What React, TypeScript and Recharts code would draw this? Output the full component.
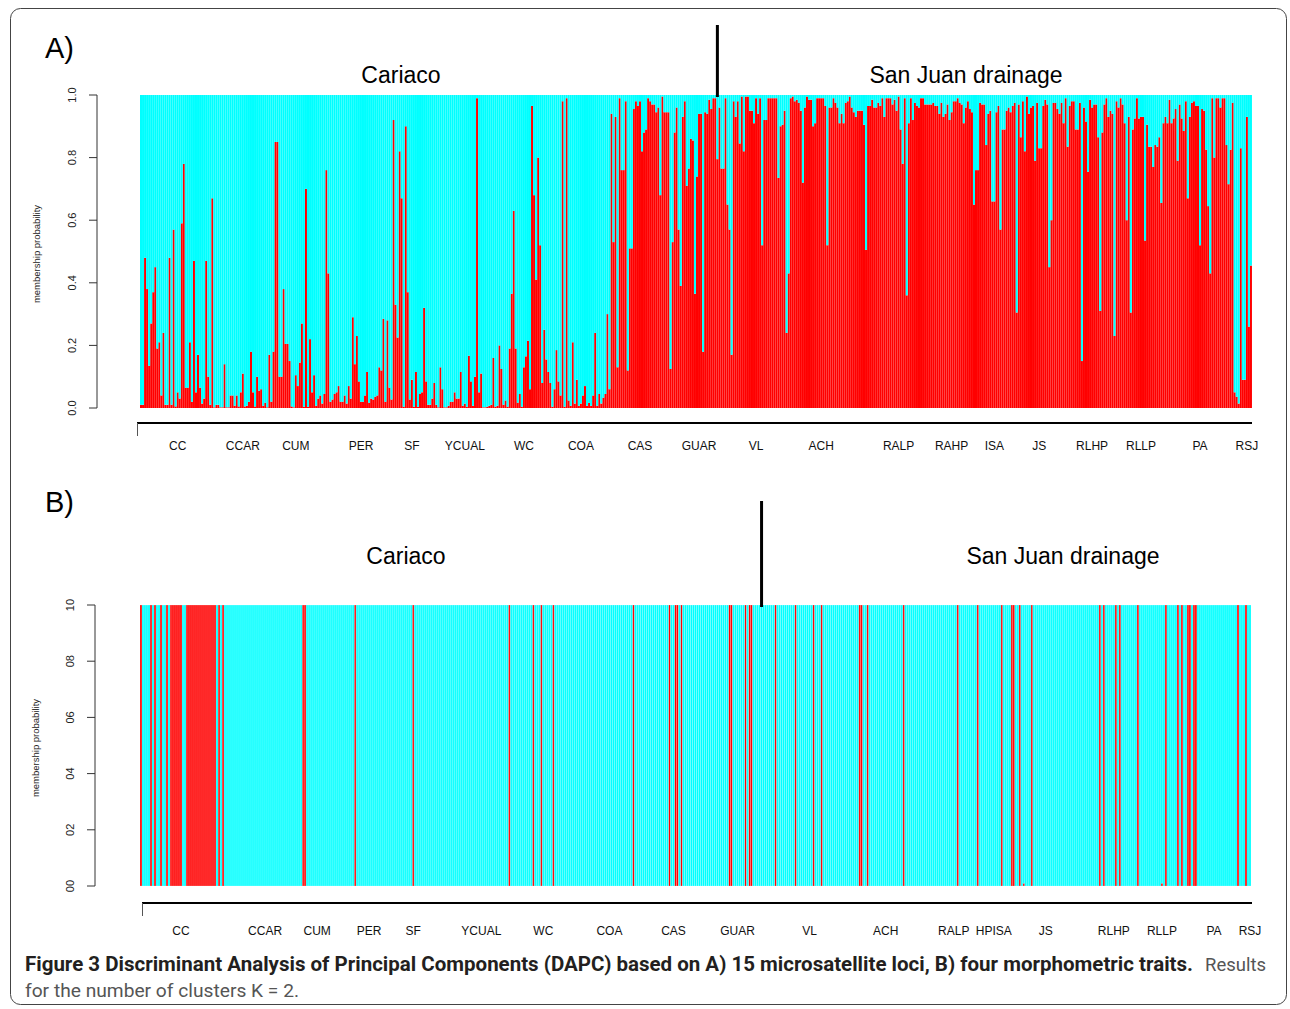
import { BarChart, Bar, XAxis, YAxis, ReferenceLine } from 'recharts';

// A) 15 microsatellite loci: membership probability of the red cluster, left to right
const A_SEG1 = [
  0.01, 0.01, 0.48, 0.38, 0.135, 0.27, 0.37, 0.45, 0.19, 0.21, 0.04,
  0.24, 0.01, 0.01, 0.48, 0.01, 0.57, 0.005, 0.05, 0.03, 0.59,
  0.78, 0.065, 0.065, 0.21, 0.02, 0.47, 0.05, 0.17, 0.065, 0.014, 0.03,
  0.47, 0.10, 0.01, 0.67, 0.002, 0.01, 0.01, 0.002, 0.002, 0.14, 0.002, 0.002, 0.04, 0.04,
  0.007, 0.04, 0.005, 0.05, 0.11, 0.005, 0.007, 0.02, 0.18, 0.05,
  0.005, 0.10, 0.055, 0.06, 0.007, 0.017, 0.002, 0.17, 0.02, 0.18,
  0.85, 0.85, 0.10, 0.10, 0.38, 0.205, 0.205, 0.15, 0.005, 0.002, 0.105, 0.07, 0.145,
  0.27, 0.004, 0.70, 0.004, 0.22, 0.05, 0.105, 0.007, 0.03, 0.04,
  0.014, 0.045, 0.76, 0.43, 0.02, 0.027, 0.045, 0.05, 0.07, 0.02,
  0.02, 0.04, 0.014, 0.07, 0.03, 0.29, 0.14, 0.23, 0.085, 0.02, 0.02,
  0.04, 0.115, 0.017, 0.03, 0.027, 0.036, 0.04, 0.13, 0.12, 0.285,
  0.02, 0.28, 0.065, 0.027, 0.92, 0.33, 0.225, 0.82, 0.67, 0.004,
  0.90, 0.37,
];
const A_SEG2 = [
  0.027, 0.09, 0.004, 0.115, 0.004, 0.045, 0.05, 0.32, 0.085, 0.01, 0.01,
  0.03, 0.08, 0.01, 0.002, 0.13, 0.06, 0.002, 0.002, 0.007, 0.02, 0.02, 0.05,
  0.03, 0.03, 0.115, 0.007, 0.014, 0.004, 0.167, 0.085, 0.007, 0.10,
  0.99, 0.05, 0.11, 0.002, 0.002, 0.004, 0.007, 0.01, 0.16, 0.004,
  0.007, 0.20, 0.125, 0.01, 0.024, 0.004, 0.19, 0.365, 0.63, 0.19,
  0.017, 0.045, 0.004, 0.13, 0.165, 0.215, 0.06, 0.965, 0.68, 0.41,
  0.80, 0.52, 0.08, 0.25, 0.155, 0.115, 0.08, 0.004, 0.06, 0.185,
  0.085, 0.04, 0.98, 0.004, 0.99, 0.024, 0.007, 0.21, 0.014, 0.09,
  0.007, 0.014, 0.04, 0.07, 0.007, 0.017, 0.007, 0.04, 0.24, 0.007,
  0.045, 0.014, 0.033, 0.045, 0.30, 0.06, 0.94, 0.53, 0.93, 0.13,
  0.99, 0.76, 0.76, 0.98, 0.12, 0.51, 0.51, 0.955, 0.98, 0.965,
  0.98, 0.82, 0.88, 0.89, 0.99, 0.98, 0.97, 0.97, 0.945, 0.96,
  0.68, 0.995, 0.945, 0.945, 0.945, 0.125, 0.53, 0.88,
];
const A_SEG3 = [
  0.96, 0.57, 0.39, 0.93, 0.98, 0.71, 0.765, 0.86, 0.855, 0.365,
  0.74, 0.94, 0.94, 0.18, 0.945, 0.94, 0.985, 0.955, 0.99, 0.99,
  0.795, 0.96, 0.765, 0.765, 0.99, 0.65, 0.57, 0.17, 0.98, 0.93,
  0.98, 0.845, 0.995, 0.82, 0.995, 0.995, 0.95, 0.95, 0.91, 0.99,
  0.94, 0.99, 0.52, 0.92, 0.92, 0.99, 0.99, 0.99, 0.99, 0.99,
  0.735, 0.90, 0.905, 0.95, 0.24, 0.43, 0.99, 0.995, 0.98, 0.985,
  0.975, 0.95, 0.72, 0.96, 0.995, 0.985, 0.985, 0.90, 0.91, 0.99,
  0.99, 0.99, 0.99, 0.965, 0.52, 0.96, 0.96, 0.99, 0.975, 0.96,
  0.91, 0.94, 0.91, 0.975, 0.98, 0.995, 0.96, 0.945, 0.93, 0.95,
  0.95, 0.95, 0.905, 0.505, 0.965, 0.965, 0.985, 0.96, 0.96, 0.975,
  0.965, 0.99, 0.93, 0.99, 0.99, 0.99, 0.97, 0.985, 0.95, 0.995,
  0.89, 0.78, 0.99, 0.36, 0.91, 0.99, 0.92, 0.975, 0.965, 0.96,
  0.99, 0.99, 0.97, 0.97, 0.97, 0.97, 0.975, 0.965, 0.965, 0.94,
  0.975, 0.93, 0.94, 0.97, 0.92, 0.945, 0.98, 0.98, 0.99, 0.975,
  0.97, 0.91, 0.96, 0.98, 0.955, 0.945,
];
const A_SEG4 = [
  0.65, 0.76, 0.76, 0.975, 0.97, 0.97, 0.84, 0.94, 0.95, 0.66,
  0.66, 0.945, 0.965, 0.57, 0.89, 0.89, 0.95, 0.96, 0.945, 0.965,
  0.975, 0.305, 0.97, 0.865, 0.98, 0.82, 0.995, 0.94, 0.96, 0.965,
  0.79, 0.975, 0.83, 0.83, 0.965, 0.985, 0.97, 0.45, 0.60, 0.975,
  0.975, 0.955, 0.94, 0.975, 0.91, 0.99, 0.835, 0.965, 0.98, 0.98,
  0.89, 0.89, 0.975, 0.15, 0.96, 0.915, 0.755, 0.985, 0.96, 0.97,
  0.97, 0.865, 0.31, 0.88, 0.97, 0.99, 0.93, 0.95, 0.94, 0.23,
  0.98, 0.96, 0.99, 0.97, 0.91, 0.60, 0.93, 0.305, 0.89, 0.925,
  0.99, 0.925, 0.93, 0.93, 0.535, 0.905, 0.835, 0.835, 0.77, 0.84,
  0.835, 0.865, 0.655, 0.91, 0.93, 0.91, 0.985, 0.91, 0.925, 0.955,
  0.79, 0.97, 0.925, 0.885, 0.98, 0.67, 0.93, 0.975, 0.98, 0.965,
  0.965, 0.52, 0.955, 0.95, 0.825, 0.645, 0.43, 0.99, 0.80, 0.99,
  0.99, 0.96, 0.99, 0.99, 0.84, 0.715, 0.825, 0.975, 0.05, 0.036,
  0.014, 0.83, 0.09, 0.09, 0.93, 0.26, 0.455,
];
const A_SPLIT = 283; // individual where Cariaco ends / San Juan drainage starts

const POPS_A = ['CC', 'CCAR', 'CUM', 'PER', 'SF', 'YCUAL', 'WC', 'COA', 'CAS', 'GUAR',
  'VL', 'ACH', 'RALP', 'RAHP', 'ISA', 'JS', 'RLHP', 'RLLP', 'PA', 'RSJ'];
const POP_MID_A = [18, 50, 76, 108, 133, 159, 188, 216, 245, 274,
  302, 334, 372, 398, 419, 441, 467, 491, 520, 543];

// B) four morphometric traits: almost all individuals in the cyan cluster,
// these ones assigned to the red cluster (probability 1)
const B_COUNT = 555;
const B_RED = [0, 5, 7, 10, 13, 15, 16, 17, 18, 19, 20, 23, 24, 25, 26, 27, 28, 29, 30,
  31, 32, 33, 34, 35, 36, 37, 39, 41, 81, 82, 107, 136, 184, 196, 200, 206, 246, 264,
  267, 268, 270, 294, 295, 302, 304, 305, 317, 327, 336, 340, 359, 360, 363, 381, 408,
  418, 430, 435, 436, 439, 445, 479, 481, 487, 489, 498, 512, 518, 520, 523, 524, 526,
  527, 548, 552];
const B_TRACE = [441, 510]; // tiny red slivers (~0.01)
const B_SPLIT = 310;

const POPS_B = ['CC', 'CCAR', 'CUM', 'PER', 'SF', 'YCUAL', 'WC', 'COA', 'CAS', 'GUAR',
  'VL', 'ACH', 'RALP', 'HPISA', 'JS', 'RLHP', 'RLLP', 'PA', 'RSJ'];
const POP_MID_B = [20, 62, 88, 114, 136, 170, 201, 234, 266, 298,
  334, 372, 406, 426, 452, 486, 510, 536, 554];

const Y_TICKS = [0, 0.2, 0.4, 0.6, 0.8, 1];
const Y_LABELS_A = ['0.0', '0.2', '0.4', '0.6', '0.8', '1.0'];
const Y_LABELS_B = ['00', '02', '04', '06', '08', '10'];

const CAPTION_BOLD = 'Figure 3 Discriminant Analysis of Principal Components (DAPC) based on A) 15 microsatellite loci, B) four morphometric traits.';
const CAPTION_TAIL = 'Results';
const CAPTION_LINE2 = 'for the number of clusters K = 2.';

const RED = '#ff0000';
const CYAN = '#00ffff';
const FONT = '"Liberation Sans", Arial, Helvetica, sans-serif';
const CAPTION_FONT = 'Roboto, "Open Sans", sans-serif';

const rowsA = [...A_SEG1, ...A_SEG2, ...A_SEG3, ...A_SEG4].map((p, i) => ({ i, red: p, cyan: 1 - p }));
const rowsB = Array.from({ length: B_COUNT }, (_, i) => {
  const p = B_RED.includes(i) ? 1 : B_TRACE.includes(i) ? 0.01 : 0;
  return { i, red: p, cyan: 1 - p };
});

// pick a font size whose natural width matches the caption width in the figure
function fitSize(text: string, weight: string, target: number, base: number) {
  if (typeof document === 'undefined') return base;
  const ctx = document.createElement('canvas').getContext('2d');
  if (!ctx) return base;
  ctx.font = `${weight} ${base}px ${CAPTION_FONT}`;
  const w = ctx.measureText(text).width;
  return w > 0 ? Math.min(base * 1.1, (base * target) / w) : base;
}

function YTick({ y, payload, labels, cx }: any) {
  const idx = Y_TICKS.indexOf(payload.value);
  return (
    <text x={cx} y={y} transform={`rotate(-90, ${cx}, ${y})`} textAnchor="middle"
      dominantBaseline="central" fontSize={11} fontFamily={FONT} fill="#222">
      {labels[idx]}
    </text>
  );
}

function PopTick({ x, payload, names, mids, ly }: any) {
  const name = names[mids.indexOf(payload.value)];
  return (
    <text x={x} y={ly} textAnchor="middle" fontSize={12} fontFamily={FONT} fill="#111">
      {name}
    </text>
  );
}

function SplitLine({ x1, y2, top }: any) {
  return <line x1={x1} x2={x1} y1={top} y2={y2 + 2} stroke="#000" strokeWidth={3} />;
}

export default function App() {
  const boldSize = fitSize(CAPTION_BOLD, 'bold', 1168, 19);
  const tailSize = fitSize(CAPTION_TAIL, 'normal', 61, 19);
  const line2Size = fitSize(CAPTION_LINE2, 'normal', 274, 19);

  return (
    <div style={{ position: 'absolute', left: 0, top: 0, width: 1290, height: 1009, background: '#fff', overflow: 'hidden' }}>
      <div style={{ position: 'absolute', left: 0, top: 0 }}>
        <BarChart width={1290} height={470} data={rowsA} barCategoryGap={0} barGap={0}
          margin={{ top: 95, right: 38, bottom: 32, left: 57 }}>
          <XAxis dataKey="i" type="category" interval={0} ticks={POP_MID_A} height={30}
            padding={{ left: 43, right: 0 }} axisLine={false} tickLine={false}
            tick={<PopTick names={POPS_A} mids={POP_MID_A} ly={450} />} />
          <YAxis domain={[0, 1]} ticks={Y_TICKS} width={40} tickSize={8}
            axisLine={{ stroke: '#333' }} tickLine={{ stroke: '#333' }}
            tick={<YTick labels={Y_LABELS_A} cx={72} />} />
          <Bar dataKey="red" stackId="m" fill={RED} isAnimationActive={false} />
          <Bar dataKey="cyan" stackId="m" fill={CYAN} isAnimationActive={false} />
          <ReferenceLine x={A_SPLIT} ifOverflow="visible" shape={<SplitLine top={25} />} />
        </BarChart>
      </div>
      <div style={{ position: 'absolute', left: 0, top: 470 }}>
        <BarChart width={1290} height={470} data={rowsB} barCategoryGap={0} barGap={0}
          margin={{ top: 135, right: 39, bottom: 24, left: 55 }}>
          <XAxis dataKey="i" type="category" interval={0} ticks={POP_MID_B} height={30}
            padding={{ left: 45, right: 0 }} axisLine={false} tickLine={false}
            tick={<PopTick names={POPS_B} mids={POP_MID_B} ly={465} />} />
          <YAxis domain={[0, 1]} ticks={Y_TICKS} width={40} tickSize={8}
            axisLine={{ stroke: '#333' }} tickLine={{ stroke: '#333' }}
            tick={<YTick labels={Y_LABELS_B} cx={70} />} />
          <Bar dataKey="red" stackId="m" fill={RED} stroke="#ffffff" strokeWidth={0.2} isAnimationActive={false} />
          <Bar dataKey="cyan" stackId="m" fill={CYAN} stroke="#ffffff" strokeWidth={0.2} isAnimationActive={false} />
          <ReferenceLine x={B_SPLIT} ifOverflow="visible" shape={<SplitLine top={31} />} />
        </BarChart>
      </div>

      <svg width={1290} height={1009} style={{ position: 'absolute', left: 0, top: 0, pointerEvents: 'none' }}>
        <rect x={10.5} y={8.5} width={1276} height={996} rx={10} fill="none" stroke="#444" strokeWidth={1} />

        <text x={45} y={58} fontSize={29} fontFamily={FONT} fill="#000">A)</text>
        <text x={45} y={512} fontSize={29} fontFamily={FONT} fill="#000">B)</text>

        <text x={401} y={83} fontSize={23} fontFamily={FONT} textAnchor="middle" fill="#000">Cariaco</text>
        <text x={966} y={83} fontSize={23} fontFamily={FONT} textAnchor="middle" fill="#000">San Juan drainage</text>
        <text x={406} y={564} fontSize={23} fontFamily={FONT} textAnchor="middle" fill="#000">Cariaco</text>
        <text x={1063} y={564} fontSize={23} fontFamily={FONT} textAnchor="middle" fill="#000">San Juan drainage</text>

        <text x={36} y={254} transform="rotate(-90, 36, 254)" textAnchor="middle" dominantBaseline="central"
          fontSize={9.5} fontFamily={FONT} fill="#222">membership probability</text>
        <text x={35} y={748} transform="rotate(-90, 35, 748)" textAnchor="middle" dominantBaseline="central"
          fontSize={9.5} fontFamily={FONT} fill="#222">membership probability</text>

        <line x1={137} x2={1252} y1={423} y2={423} stroke="#000" strokeWidth={2} />
        <line x1={137.5} x2={137.5} y1={423} y2={436} stroke="#555" strokeWidth={1} />
        <line x1={142} x2={1252} y1={903} y2={903} stroke="#000" strokeWidth={2} />
        <line x1={142.5} x2={142.5} y1={903} y2={916} stroke="#555" strokeWidth={1} />

        <text x={25} y={971} fontSize={boldSize} fontFamily={CAPTION_FONT} fontWeight="bold" fill="#231f20"
          textLength={1168} lengthAdjust="spacingAndGlyphs">{CAPTION_BOLD}</text>
        <text x={1205} y={971} fontSize={tailSize} fontFamily={CAPTION_FONT} fill="#555"
          textLength={61} lengthAdjust="spacingAndGlyphs">{CAPTION_TAIL}</text>
        <text x={25} y={997} fontSize={line2Size} fontFamily={CAPTION_FONT} fill="#555"
          textLength={274} lengthAdjust="spacingAndGlyphs">{CAPTION_LINE2}</text>
      </svg>
    </div>
  );
}
